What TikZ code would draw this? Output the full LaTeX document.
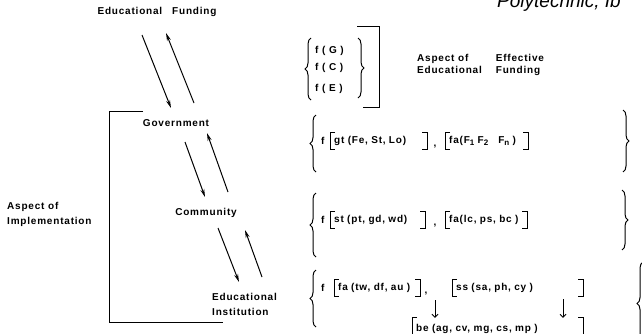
\documentclass[tikz,border=0pt]{standalone}
\usepackage{fontspec}
\setmainfont{Liberation Sans}
\newfontfamily\lettering[LetterSpace=8]{Liberation Sans}
\usepackage{tikz}
\usetikzlibrary{arrows.meta,decorations.pathreplacing}

% square brackets round a named node
\newcommand{\sqbrackets}[1]{%
  \draw[frame] ([xshift=5pt]#1.north west) -- (#1.north west) -- (#1.south west) -- ([xshift=5pt]#1.south west);
  \draw[frame] ([xshift=-5pt]#1.north east) -- (#1.north east) -- (#1.south east) -- ([xshift=-5pt]#1.south east);}
\newcommand{\lowidx}[1]{\raisebox{-2.5pt}{\footnotesize #1}}

\begin{document}
\begin{tikzpicture}[x=1pt,y=-1pt,
    lbl/.style={font=\lettering\bfseries\fontsize{10}{12}\selectfont, inner sep=0pt},
    flow/.style={line width=1pt, -{Stealth[length=8pt,width=4pt]}},
    tick/.style={line width=0.8pt, -{Straight Barb[length=3pt,width=6pt]}},
    frame/.style={line width=1pt},
    brc/.style={line width=1pt, decorate, decoration={brace, amplitude=6pt}},
    grp/.style={lbl, anchor=west, align=left, inner xsep=4pt, inner ysep=0pt, minimum height=17pt, text width=#1}
]
\useasboundingbox (0,0) rectangle (642,333);
\clip (0,0) rectangle (642,333);

\node[anchor=base west, inner sep=0pt, font=\itshape\fontsize{19}{19}\selectfont] (poly) at (497,7) {Polytechnic, Ib};

% left part
\node[lbl] (fund) at (157,12) {Educational\hspace{10pt}Funding};
\node[lbl] (gov) at (176,123) {Government};
\node[lbl] (com) at (206,213) {Community};
\node[lbl, anchor=west, align=left] (inst) at (212,304.5) {Educational\\[3pt]Institution};
\node[lbl, anchor=west, align=left] (impl) at (7,214.5) {Aspect of\\[3pt]Implementation};

\coordinate (fd1) at (142,35);  \coordinate (fd2) at (171,108);
\coordinate (fu1) at (194,103); \coordinate (fu2) at (166,33);
\coordinate (gd1) at (185,142); \coordinate (gd2) at (205,197);
\coordinate (gu1) at (228,192); \coordinate (gu2) at (207,133);
\coordinate (cd1) at (218,228); \coordinate (cd2) at (239,282);
\coordinate (cu1) at (262,277); \coordinate (cu2) at (245,230);
\draw[flow] (fd1) -- (fd2);
\draw[flow] (fu1) -- (fu2);
\draw[flow] (gd1) -- (gd2);
\draw[flow] (gu1) -- (gu2);
\draw[flow] (cd1) -- (cd2);
\draw[flow] (cu1) -- (cu2);

\draw[frame] (143,111) -- (109,111) -- (109,322) -- (223,322);

% effective funding
\node[lbl, anchor=west] (fg) at (315,51) {f ( G )};
\node[lbl, anchor=west] (fc) at (315,68) {f ( C )};
\node[lbl, anchor=west] (fe) at (315,89) {f ( E )};
\draw[brc] (311,100) -- (311,38);
\draw[brc] (358,38) -- (358,98);
\draw[frame] (357,26) -- (379,26) -- (379,107) -- (363,107);
\node[lbl, anchor=west] (eff) at (417,65.5) {\begin{tabular}{@{}l@{\hspace{14pt}}l@{}}Aspect of & Effective\\ Educational & Funding\end{tabular}};

% government
\draw[brc] (316,172) -- (316,115);
\node[lbl, anchor=west] (f1) at (321,141) {f};
\node[grp=89pt] (g1) at (330,141) {\mbox{gt (Fe, St, Lo)}};
\node[lbl] (k1) at (435,147) {,};
\node[grp=75pt] (h1) at (445,141) {\mbox{fa(F\lowidx{1} F\lowidx{2}\hspace{10pt}F\lowidx{n} )}};
\sqbrackets{g1}
\sqbrackets{h1}
\draw[brc] (623,110) -- (623,172);

% community
\draw[brc] (316,257) -- (316,193);
\node[lbl, anchor=west] (f2) at (321,220) {f};
\node[grp=87pt] (g2) at (330,220) {\mbox{st (pt, gd, wd)}};
\node[lbl] (k2) at (435,226) {,};
\node[grp=74pt] (h2) at (445,220) {\mbox{fa(lc, ps, bc )}};
\sqbrackets{g2}
\sqbrackets{h2}
\draw[brc] (622,190) -- (622,250);

% educational institution
\draw[brc] (316,327) -- (316,270);
\node[lbl, anchor=west] (f3) at (321,288) {f};
\node[grp=78pt] (g3) at (334,288) {\mbox{fa (tw, df, au )}};
\node[lbl] (k3) at (426,294) {,};
\node[grp=123pt] (h3) at (452,288) {\mbox{ss (sa, ph, cy )}};
\sqbrackets{g3}
\sqbrackets{h3}
\node[grp=163pt, minimum height=22pt] (be) at (412,329) {\mbox{be (ag, cv, mg, cs, mp )}};
\sqbrackets{be}
\coordinate (au) at (435,300);
\coordinate (cy) at (563,299);
\draw[tick] (au) -- (au |- be.north);
\draw[tick] (cy) -- (cy |- be.north);
\draw[brc] (643,345) -- (643,262);

\end{tikzpicture}
\end{document}
